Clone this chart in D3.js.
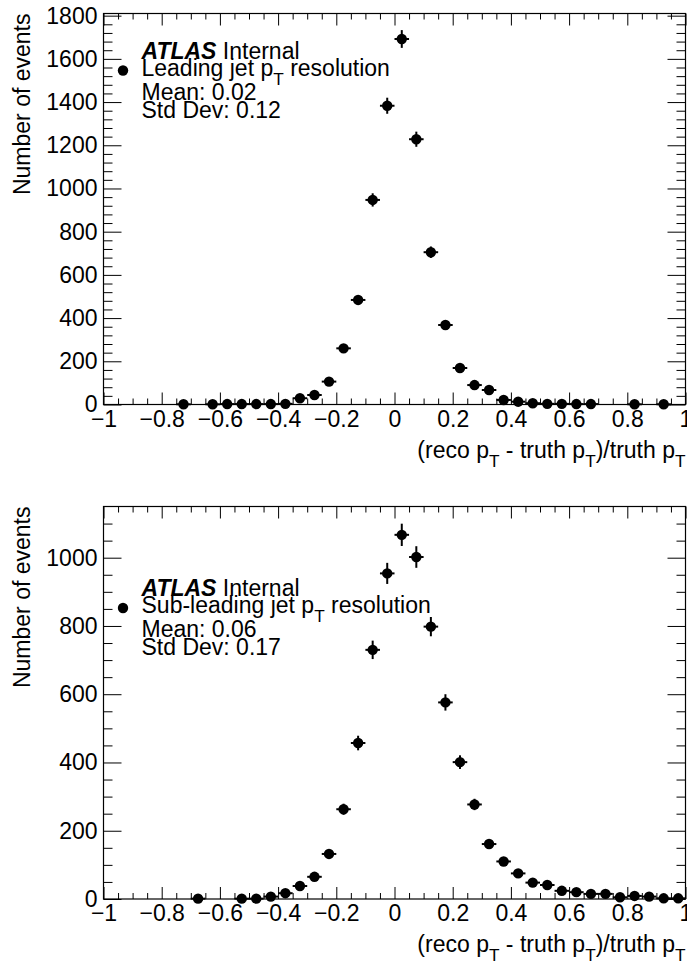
<!DOCTYPE html>
<html>
<head>
<meta charset="utf-8">
<script src="https://cdn.jsdelivr.net/npm/d3@7"></script>
<style>
  html, body { margin: 0; padding: 0; background: #fff; }
  svg { display: block; font-family: "Liberation Sans", Arial, Helvetica, sans-serif; }
</style>
</head>
<body>
<svg id="chart" width="687" height="971"></svg>
<script>
// Bin centres (bin width 0.05) and event counts, empty bins omitted
const leadCenters = [-0.725, -0.625, -0.575, -0.525, -0.475, -0.425, -0.375, -0.325, -0.275, -0.225,
  -0.175, -0.125, -0.075, -0.025, 0.025, 0.075, 0.125, 0.175, 0.225, 0.275,
  0.325, 0.375, 0.425, 0.475, 0.525, 0.575, 0.625, 0.675, 0.825, 0.925];
const leadCounts = [1, 1, 2, 2, 2, 2, 3, 29, 44, 106,
  260, 484, 947, 1383, 1692, 1228, 705, 368, 169, 90,
  67, 21, 13, 6, 3, 3, 2, 2, 1, 1];

const subCenters = [-0.675, -0.525, -0.475, -0.425, -0.375, -0.325, -0.275, -0.225, -0.175, -0.125,
  -0.075, -0.025, 0.025, 0.075, 0.125, 0.175, 0.225, 0.275, 0.325, 0.375,
  0.425, 0.475, 0.525, 0.575, 0.625, 0.675, 0.725, 0.775, 0.825, 0.875, 0.925, 0.975];
const subCounts = [1, 1, 1, 7, 17, 38, 65, 132, 263, 457,
  730, 954, 1067, 1002, 798, 576, 401, 277, 161, 110,
  75, 48, 41, 24, 20, 15, 15, 5, 9, 7, 2, 2];

const binWidth = 0.05;
const xMajorTicks = [-1, -0.8, -0.6, -0.4, -0.2, 0, 0.2, 0.4, 0.6, 0.8, 1];
const leadYTicks = [0, 200, 400, 600, 800, 1000, 1200, 1400, 1600, 1800];
const subYTicks = [0, 200, 400, 600, 800, 1000];

const leadInfo = { label: "Leading jet p", mean: "Mean: 0.02", sd: "Std Dev: 0.12" };
const subInfo = { label: "Sub-leading jet p", mean: "Mean: 0.06", sd: "Std Dev: 0.17" };

const svg = d3.select("#chart");
const FONT = 23;

function fmtX(v) {
  if (v === 0) return "0";
  const s = String(Math.abs(v));
  return (v < 0 ? "\u2212" : "") + s;
}

// Text containing a "p_T" subscript: plain parts, lowered subscript parts
function addSubT(textSel, parts) {
  parts.forEach(p => {
    if (p.sub) {
      textSel.append("tspan").attr("font-size", FONT * 0.75).attr("dy", 9).text(p.t);
    } else {
      const ts = textSel.append("tspan").text(p.t);
      if (p.up) ts.attr("dy", -9);
    }
  });
}

function drawPanel(cfg) {
  const { left, right, top, bottom, yMax, yMinorStep, yTicks, centers, counts, info } = cfg;
  const x = d3.scaleLinear().domain([-1, 1]).range([left, right]);
  const y = d3.scaleLinear().domain([0, yMax]).range([bottom, top]);
  const g = svg.append("g");

  const xMinor = d3.range(-1, 1.0001, 0.05).map(v => +v.toFixed(2)).filter(v => !xMajorTicks.some(m => Math.abs(m - v) < 1e-9));
  const yMinor = d3.range(0, yMax, yMinorStep).filter(v => !yTicks.includes(v));

  const styleAxis = sel => {
    sel.select(".domain").remove();
    sel.selectAll("line").attr("stroke", "#000").attr("stroke-width", 1);
    sel.selectAll("text").attr("fill", "#000").attr("font-size", FONT)
      .attr("font-family", "'Liberation Sans', Arial, Helvetica, sans-serif");
  };

  // bottom x axis, ticks pointing into the frame
  g.append("g").attr("transform", `translate(0,${bottom})`)
    .call(d3.axisBottom(x).tickValues(xMajorTicks).tickFormat(fmtX).tickSizeInner(-12).tickSizeOuter(0).tickPadding(6))
    .call(styleAxis);
  g.append("g").attr("transform", `translate(0,${bottom})`)
    .call(d3.axisBottom(x).tickValues(xMinor).tickFormat("").tickSizeInner(-6).tickSizeOuter(0))
    .call(styleAxis);
  // top x axis (ticks only)
  g.append("g").attr("transform", `translate(0,${top})`)
    .call(d3.axisTop(x).tickValues(xMajorTicks).tickFormat("").tickSizeInner(-12).tickSizeOuter(0))
    .call(styleAxis);
  g.append("g").attr("transform", `translate(0,${top})`)
    .call(d3.axisTop(x).tickValues(xMinor).tickFormat("").tickSizeInner(-6).tickSizeOuter(0))
    .call(styleAxis);
  // left y axis
  g.append("g").attr("transform", `translate(${left},0)`)
    .call(d3.axisLeft(y).tickValues(yTicks).tickFormat(d3.format("d")).tickSizeInner(-18).tickSizeOuter(0).tickPadding(6))
    .call(styleAxis);
  g.append("g").attr("transform", `translate(${left},0)`)
    .call(d3.axisLeft(y).tickValues(yMinor).tickFormat("").tickSizeInner(-9).tickSizeOuter(0))
    .call(styleAxis);
  // right y axis (ticks only)
  g.append("g").attr("transform", `translate(${right},0)`)
    .call(d3.axisRight(y).tickValues(yTicks).tickFormat("").tickSizeInner(-18).tickSizeOuter(0))
    .call(styleAxis);
  g.append("g").attr("transform", `translate(${right},0)`)
    .call(d3.axisRight(y).tickValues(yMinor).tickFormat("").tickSizeInner(-9).tickSizeOuter(0))
    .call(styleAxis);

  // frame
  g.append("rect").attr("x", left).attr("y", top).attr("width", right - left).attr("height", bottom - top)
    .attr("fill", "none").attr("stroke", "#000").attr("stroke-width", 1.2);

  // data points with statistical error bars
  const pts = centers.map((c, i) => ({ c, n: counts[i] }));
  const pg = g.append("g");
  pg.selectAll("line.ex").data(pts).join("line").attr("class", "ex")
    .attr("x1", d => x(d.c - binWidth / 2)).attr("x2", d => x(d.c + binWidth / 2))
    .attr("y1", d => y(d.n)).attr("y2", d => y(d.n))
    .attr("stroke", "#000").attr("stroke-width", 2);
  pg.selectAll("line.ey").data(pts).join("line").attr("class", "ey")
    .attr("x1", d => x(d.c)).attr("x2", d => x(d.c))
    .attr("y1", d => y(d.n + Math.sqrt(d.n))).attr("y2", d => y(Math.max(0, d.n - Math.sqrt(d.n))))
    .attr("stroke", "#000").attr("stroke-width", 2);
  pg.selectAll("circle").data(pts).join("circle")
    .attr("cx", d => x(d.c)).attr("cy", d => y(d.n)).attr("r", 5.2).attr("fill", "#000");

  // legend / labels
  const tx = left + 38;
  const m = cfg.markerY;
  g.append("text").attr("x", tx).attr("y", m - 12).attr("font-size", FONT)
    .call(t => {
      t.append("tspan").attr("font-weight", "bold").attr("font-style", "italic").text("ATLAS");
      t.append("tspan").text(" Internal");
    });
  g.append("circle").attr("cx", left + 19.5).attr("cy", m).attr("r", 5.2).attr("fill", "#000");
  g.append("text").attr("x", tx).attr("y", m + 5).attr("font-size", FONT)
    .call(t => addSubT(t, [{ t: info.label }, { t: "T", sub: true }, { t: " resolution", up: true }]));
  g.append("text").attr("x", tx).attr("y", m + 29).attr("font-size", FONT).text(info.mean);
  g.append("text").attr("x", tx).attr("y", m + 47).attr("font-size", FONT).text(info.sd);

  // axis titles
  g.append("text").attr("x", right).attr("y", cfg.xTitleY).attr("text-anchor", "end").attr("font-size", FONT)
    .call(t => addSubT(t, [{ t: "(reco p" }, { t: "T", sub: true }, { t: " - truth p", up: true },
      { t: "T", sub: true }, { t: ")/truth p", up: true }, { t: "T", sub: true }]));
  g.append("text").attr("transform", `translate(30,${top}) rotate(-90)`).attr("text-anchor", "end")
    .attr("font-size", FONT).text("Number of events");
}

drawPanel({ left: 103.5, right: 685.5, top: 13.5, bottom: 404.5, yMax: 1810, yMinorStep: 40,
  yTicks: leadYTicks, centers: leadCenters, counts: leadCounts, info: leadInfo, markerY: 70.5, xTitleY: 458 });
drawPanel({ left: 103.5, right: 685.5, top: 506.5, bottom: 899, yMax: 1150, yMinorStep: 50,
  yTicks: subYTicks, centers: subCenters, counts: subCounts, info: subInfo, markerY: 608, xTitleY: 952 });
</script>
</body>
</html>
